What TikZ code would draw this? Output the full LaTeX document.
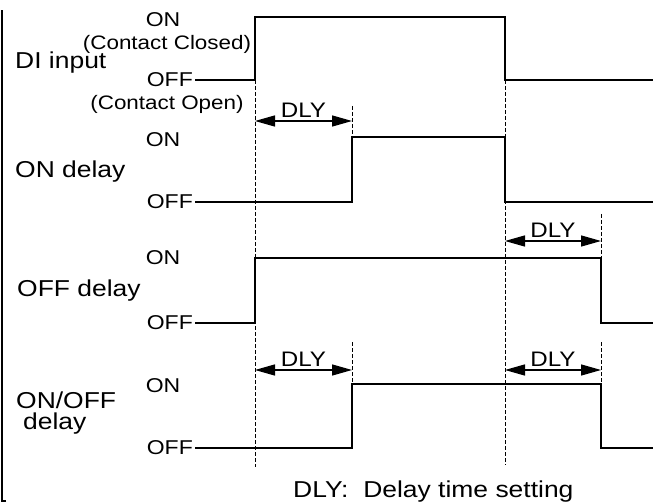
\documentclass[tikz,border=0pt]{standalone}
\usepackage{fontspec}
\setmainfont{Liberation Sans}[FakeStretch=1.15]
\usetikzlibrary{positioning, arrows.meta}

\begin{document}
\begin{tikzpicture}[
    x=1pt, y=-1pt,
    >={Triangle[length=20pt, width=11pt]},
    signal/.style={line width=2.6pt, line join=miter},
    guide/.style={dash pattern=on 4pt off 2pt, line width=0.9pt},
    dly/.style={<->, line width=1.3pt},
    dlytext/.style={font=\fontsize{21}{21}\selectfont, inner sep=0pt},
    title/.style={font=\fontsize{23}{23}\selectfont, anchor=base west, inner sep=0pt},
    level/.style={font=\fontsize{20}{20}\selectfont, anchor=base, inner sep=0pt},
    offlevel/.style={font=\fontsize{20}{20}\selectfont, inner sep=0pt},
    note/.style={font=\fontsize{19.5}{19.5}\selectfont, anchor=base, inner sep=0pt}
]
\useasboundingbox (0,0) rectangle (658,502);

% time marks
\coordinate (t0) at (255,0);
\coordinate (t1) at (352,0);
\coordinate (t2) at (505,0);
\coordinate (t3) at (601,0);
\coordinate (tE) at (653,0);

% DI input
\coordinate (diOn) at (195,17);
\coordinate (diOff) at (195,80);
\node[level] (diOnL) at (163,27) {ON};
\node[note] (diClosed) at (167,50) {(Contact Closed)};
\node[title] (diT) at (15,69) {DI input};
\node[offlevel, left=2pt of diOff] (diOffL) {OFF};
\node[note] (diOpen) at (167,110) {(Contact Open)};
\draw[signal] (diOff) -- (t0 |- diOff) -- (t0 |- diOn) -- (t2 |- diOn)
    -- (t2 |- diOff) -- (tE |- diOff);

% ON delay
\coordinate (onOn) at (195,137);
\coordinate (onOff) at (195,202);
\node[level] (onOnL) at (163,147) {ON};
\node[title] (onT) at (15,178) {ON delay};
\node[offlevel, left=2pt of onOff] (onOffL) {OFF};
\draw[signal] (onOff) -- (t1 |- onOff) -- (t1 |- onOn) -- (t2 |- onOn)
    -- (t2 |- onOff) -- (tE |- onOff);

% OFF delay
\coordinate (ofOn) at (195,258);
\coordinate (ofOff) at (195,323);
\node[level] (ofOnL) at (163,265) {ON};
\node[title] (ofT) at (17,297) {OFF delay};
\node[offlevel, left=2pt of ofOff] (ofOffL) {OFF};
\draw[signal] (ofOff) -- (t0 |- ofOff) -- (t0 |- ofOn) -- (t3 |- ofOn)
    -- (t3 |- ofOff) -- (tE |- ofOff);

% ON/OFF delay
\coordinate (bothOn) at (195,384);
\coordinate (bothOff) at (195,448);
\node[level] (bothOnL) at (163,392) {ON};
\node[title, anchor=north west, align=left, font=\fontsize{23}{20.5}\selectfont]
    (bothT) at (16,392) {ON/OFF\\\hspace{7pt}delay};
\node[offlevel, left=2pt of bothOff] (bothOffL) {OFF};
\draw[signal] (bothOff) -- (t1 |- bothOff) -- (t1 |- bothOn) -- (t3 |- bothOn)
    -- (t3 |- bothOff) -- (tE |- bothOff);

% guides
\coordinate (r1) at (0,121);
\coordinate (r2) at (0,241);
\coordinate (r3) at (0,370);
\draw[guide] (t0 |- diOff) -- (t0 |- 0,467);
\draw[guide] (t2 |- diOff) -- (t2 |- 0,465);
\draw[guide] (t1 |- 0,106) -- (t1 |- onOn);
\draw[guide] (t3 |- 0,214) -- (t3 |- ofOn);
\draw[guide] (t1 |- 0,342) -- (t1 |- bothOn);
\draw[guide] (t3 |- 0,342) -- (t3 |- bothOn);

% delay arrows
\draw[dly] (t0 |- r1) -- (t1 |- r1) node[dlytext, midway, above=3pt] (dly1) {DLY};
\draw[dly] (t2 |- r2) -- (t3 |- r2) node[dlytext, midway, above=3pt] (dly2) {DLY};
\draw[dly] (t0 |- r3) -- (t1 |- r3) node[dlytext, midway, above=3pt] (dly3) {DLY};
\draw[dly] (t2 |- r3) -- (t3 |- r3) node[dlytext, midway, above=3pt] (dly4) {DLY};

% bracket and key
\draw[line width=1.4pt] (6,501) -- (2,501) -- (2,10);
\node[title] (key) at (293,497) {DLY:\ \ Delay time setting};

\end{tikzpicture}
\end{document}
